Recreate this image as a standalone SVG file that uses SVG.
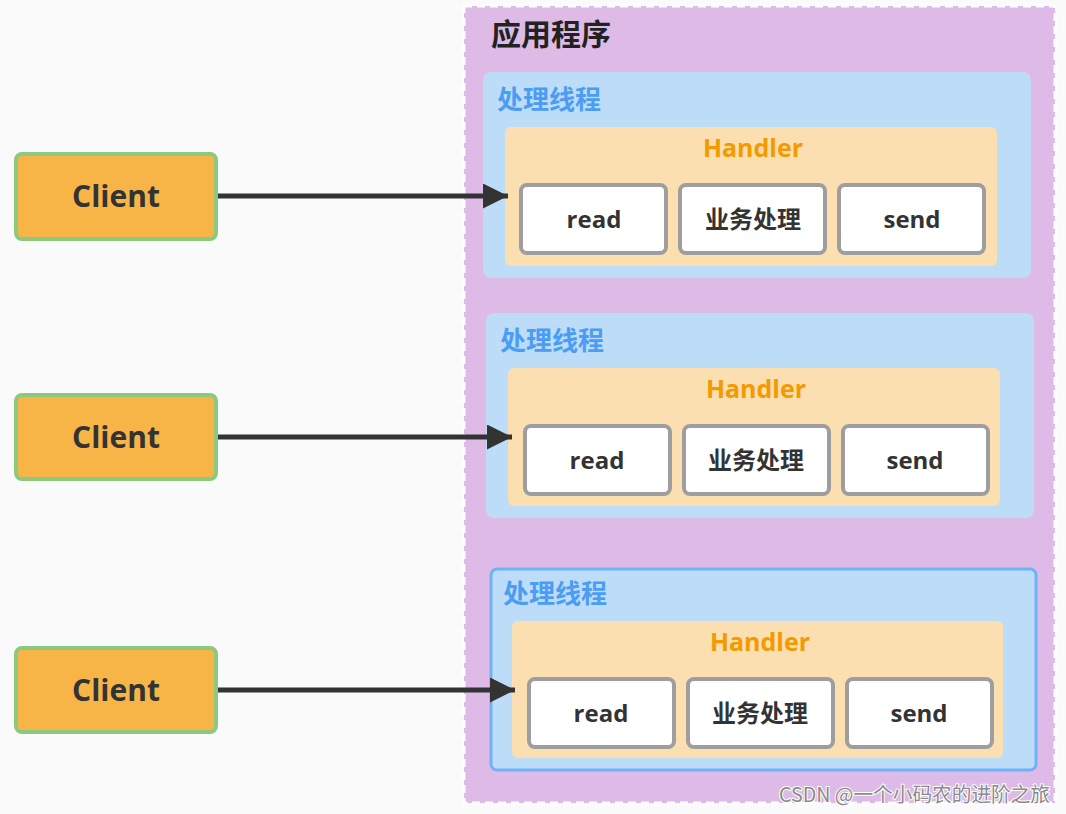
<svg xmlns="http://www.w3.org/2000/svg" width="1066" height="814" viewBox="0 0 1066 814">
<defs>
<style>
.client rect{fill:#F8B547;stroke:#8CC97F;stroke-width:4}
.client text{font-family:"Open Sans","Noto Sans CJK SC",sans-serif;font-weight:bold;font-size:30px;fill:#333;text-anchor:middle}
.thread>rect{fill:#BDDCF8}
.tlabel{font-family:"Noto Sans CJK SC",sans-serif;font-weight:bold;font-size:26px;fill:#4A9CF5}
.handler>rect{fill:#FBDFB0}
.hlabel{font-family:"Open Sans","Noto Sans CJK SC",sans-serif;font-weight:bold;font-size:25px;fill:#F39A00;text-anchor:middle}
.step rect{fill:#fff;stroke:#9E9E9E;stroke-width:4}
.step text{font-family:"Open Sans","Noto Sans CJK SC",sans-serif;font-weight:bold;font-size:24px;fill:#333;text-anchor:middle}
.conn line{stroke:#333;stroke-width:5}
</style>
<marker id="ah" viewBox="0 0 10 10" refX="10" refY="5" markerWidth="6.5" markerHeight="5" markerUnits="strokeWidth" orient="auto">
<path d="M0,0 L10,5 L0,10 Z" fill="#333"/>
</marker>
</defs>
<rect width="1066" height="814" fill="#FAFAFA"/>
<g id="app">
<rect x="464" y="6" width="591" height="797" fill="#DEBBE6" stroke="#fff" stroke-width="3" stroke-dasharray="8,5"/>
<text x="491" y="45" font-family="Noto Sans CJK SC,sans-serif" font-weight="bold" font-size="30" fill="#222">应用程序</text>
</g>
<g id="client1" class="client"><rect x="16" y="154" width="200" height="85" rx="6"/><text x="116" y="207">Client</text></g>
<g id="client2" class="client"><rect x="16" y="395" width="200" height="84" rx="6"/><text x="116" y="448">Client</text></g>
<g id="client3" class="client"><rect x="16" y="648" width="200" height="84" rx="6"/><text x="116" y="701">Client</text></g>

<g id="thread1" class="thread">
<rect x="483" y="72" width="548" height="206" rx="8"/>
<text class="tlabel" x="497" y="109">处理线程</text>
<g id="handler1" class="handler">
<rect x="505" y="127" width="492" height="139" rx="6"/>
<text class="hlabel" x="753" y="157">Handler</text>
<g id="read1" class="step"><rect x="521" y="185" width="145" height="68" rx="6"/><text x="594" y="228">read</text></g>
<g id="biz1" class="step"><rect x="680" y="185" width="145" height="68" rx="6"/><text x="753" y="228">业务处理</text></g>
<g id="send1" class="step"><rect x="839" y="185" width="145" height="68" rx="6"/><text x="912" y="228">send</text></g>
</g>
</g>

<g id="thread2" class="thread">
<rect x="486" y="313" width="548" height="205" rx="8"/>
<text class="tlabel" x="500" y="350">处理线程</text>
<g id="handler2" class="handler">
<rect x="508" y="368" width="492" height="138" rx="6"/>
<text class="hlabel" x="756" y="398">Handler</text>
<g id="read2" class="step"><rect x="525" y="426" width="145" height="68" rx="6"/><text x="597" y="469">read</text></g>
<g id="biz2" class="step"><rect x="684" y="426" width="145" height="68" rx="6"/><text x="756" y="469">业务处理</text></g>
<g id="send2" class="step"><rect x="843" y="426" width="145" height="68" rx="6"/><text x="915" y="469">send</text></g>
</g>
</g>

<g id="thread3" class="thread">
<rect x="491" y="569" width="545" height="201" rx="6" stroke="#6FB2F7" stroke-width="3"/>
<text class="tlabel" x="503" y="603">处理线程</text>
<g id="handler3" class="handler">
<rect x="512" y="621" width="491" height="137" rx="6"/>
<text class="hlabel" x="760" y="651">Handler</text>
<g id="read3" class="step"><rect x="529" y="679" width="145" height="68" rx="6"/><text x="601" y="722">read</text></g>
<g id="biz3" class="step"><rect x="688" y="679" width="145" height="68" rx="6"/><text x="760" y="722">业务处理</text></g>
<g id="send3" class="step"><rect x="847" y="679" width="145" height="68" rx="6"/><text x="919" y="722">send</text></g>
</g>
</g>

<g id="connectors" class="conn">
<line x1="218" y1="196" x2="508" y2="196" marker-end="url(#ah)"/>
<line x1="218" y1="437" x2="512" y2="437" marker-end="url(#ah)"/>
<line x1="218" y1="690" x2="515" y2="690" marker-end="url(#ah)"/>
</g>
<text x="779" y="802" font-family="Noto Sans CJK SC,sans-serif" font-size="20" fill="#8A8A8A" stroke="#fff" stroke-width="2" paint-order="stroke" textLength="271" lengthAdjust="spacingAndGlyphs">CSDN @一个小码农的进阶之旅</text>
</svg>
